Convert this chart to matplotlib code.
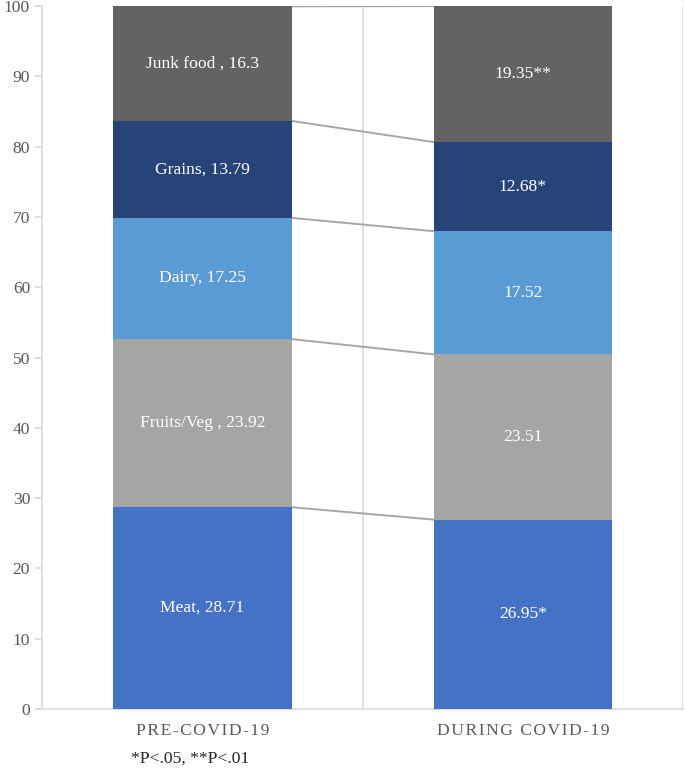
import numpy as np
import matplotlib.pyplot as plt

plt.rcParams['font.family'] = ['Liberation Serif', 'DejaVu Serif']

categories = ["PRE-COVID-19", "DURING COVID-19"]
series = ["Meat", "Fruits/Veg ", "Dairy", "Grains", "Junk food "]
pre_vals = [28.71, 23.92, 17.25, 13.79, 16.3]
during_vals = [26.95, 23.51, 17.52, 12.68, 19.35]
during_marks = ["*", "", "", "*", "**"]
colors = ["#4472C4", "#A5A5A5", "#5B9BD5", "#264478", "#636363"]

fig = plt.figure(figsize=(6.85, 7.69), dpi=100)
ax = fig.add_axes([0.0613, 0.078, 0.936, 0.914])

x = np.arange(len(categories))
w = 0.557
vals = np.array([pre_vals, during_vals]).T  # series x category
bottoms = np.zeros(len(categories))
for i, name in enumerate(series):
    ax.bar(x, vals[i], w, bottom=bottoms, color=colors[i], zorder=3)
    # connector line between the tops
    top = bottoms + vals[i]
    ax.plot([x[0] + w / 2, x[1] - w / 2], [top[0], top[1]], color="#A6A6A6", lw=1.4, zorder=2)
    mid = bottoms + vals[i] / 2
    ax.text(x[0], mid[0], f"{name}, {pre_vals[i]}", color="white", fontsize=12.6,
            ha="center", va="center", zorder=4)
    ax.text(x[1], mid[1], f"{during_vals[i]}{during_marks[i]}", color="white", fontsize=12.6,
            ha="center", va="center", zorder=4)
    bottoms = top

ax.set_xlim(-0.5, 1.5)
ax.set_ylim(0, 100)
ax.set_yticks(np.arange(0, 101, 10))
ax.set_xticks(x)
spaced = ["\u200a".join(c) for c in categories]
ax.set_xticklabels(spaced)
ax.tick_params(axis="y", colors="#D9D9D9", labelcolor="#595959", labelsize=12.6, length=5, width=1.2)
ax.tick_params(axis="x", length=0, labelcolor="#595959", labelsize=12.6, pad=10)

for s in ["top", "right"]:
    ax.spines[s].set_visible(False)
ax.spines["left"].set_color("#D9D9D9")
ax.spines["left"].set_linewidth(1.2)
ax.spines["bottom"].set_color("#D9D9D9")
ax.spines["bottom"].set_linewidth(1.2)
for gx in [0.5, 1.5]:
    ax.axvline(gx, color="#D9D9D9", lw=1.2, zorder=1)
ax.plot([-0.517, -0.5], [0, 0], color="#D9D9D9", lw=1.2, clip_on=False)

fig.text(0.277, 0.013, "*P<.05, **P<.01", fontsize=12.6, color="#262626", ha="center", va="center")

fig.savefig("out.png", dpi=100)
